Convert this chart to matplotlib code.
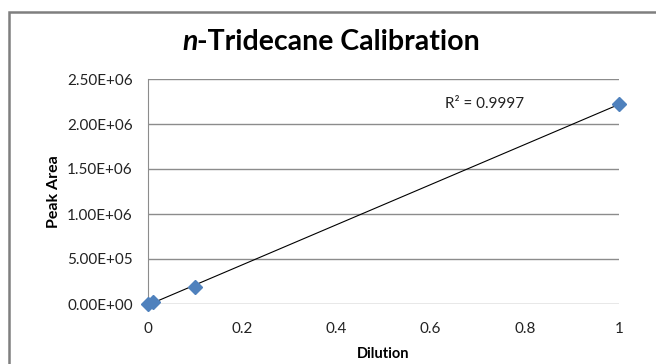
import numpy as np
import matplotlib.pyplot as plt
from matplotlib.patches import Rectangle

# data
dilution = [0.001, 0.01, 0.1, 1.0]
peak_area = [2.2e3, 2.1e4, 1.89e5, 2.22e6]
y_ticks = [0, 5e5, 1e6, 1.5e6, 2e6, 2.5e6]
y_labels = ['0.00E+00', '5.00E+05', '1.00E+06', '1.50E+06', '2.00E+06', '2.50E+06']
x_ticks = [0, 0.2, 0.4, 0.6, 0.8, 1]
x_labels = ['0', '0.2', '0.4', '0.6', '0.8', '1']
r2_text = 'R² = 0.9997'

plt.rcParams['font.family'] = ['Lato', 'DejaVu Sans']

fig = plt.figure(figsize=(6.56, 3.64), dpi=100)
fig.patch.set_facecolor('white')
ax = fig.add_axes([148/656, 1 - 304/364, (619 - 148)/656, (304 - 79)/364])

# outer chart border
fig.patches.append(Rectangle((9/656, -0.05), 1.0, 1 - 12/364 + 0.05,
                             transform=fig.transFigure, fill=False,
                             edgecolor='#7f7f7f', linewidth=1.8))

# linear trendline
k, b = np.polyfit(dilution, peak_area, 1)
xs = np.array([min(dilution), max(dilution)])
ax.plot(xs, k * xs + b, color='black', linewidth=0.8, zorder=2)

ax.plot(dilution, peak_area, linestyle='none', marker='D', markersize=7,
        color='#4F81BD', markeredgecolor='#4F81BD', zorder=3, clip_on=False)

ax.set_xlim(0, 1)
ax.set_ylim(0, 2.5e6)
ax.set_yticks(y_ticks)
ax.set_yticklabels(y_labels)
ax.set_xticks(x_ticks)
ax.set_xticklabels(x_labels)
ax.tick_params(length=0, labelsize=11, colors='#222222')
ax.tick_params(axis='y', pad=11)
ax.tick_params(axis='x', pad=13)
ax.grid(axis='y', color='#8c8c8c', linewidth=1)
ax.set_axisbelow(True)
for s in ('top', 'right', 'bottom'):
    ax.spines[s].set_visible(False)
ax.spines['left'].set_color('#8c8c8c')

ax.text(0.63, 2.22e6, r2_text, fontsize=11, va='center', ha='left', color='#222222')

fig.text(383/656, 1 - 354/364, 'Dilution', fontsize=10.5, fontweight='bold',
         ha='center', va='center')
fig.text(54/656, 1 - 192/364, 'Peak Area', rotation=90, fontsize=11.5,
         fontweight='bold', ha='center', va='center')

# title: italic "n" followed by the rest in upright bold
t1 = fig.text(182/656, 1 - 50/364, 'n', fontsize=20.5, fontweight='bold',
              style='italic', ha='left', va='baseline')
ax.annotate('-Tridecane Calibration', xy=(1, 0), xycoords=t1,
            fontsize=20.5, fontweight='bold', ha='left', va='bottom',
            annotation_clip=False)

fig.savefig('out.png', dpi=100)
